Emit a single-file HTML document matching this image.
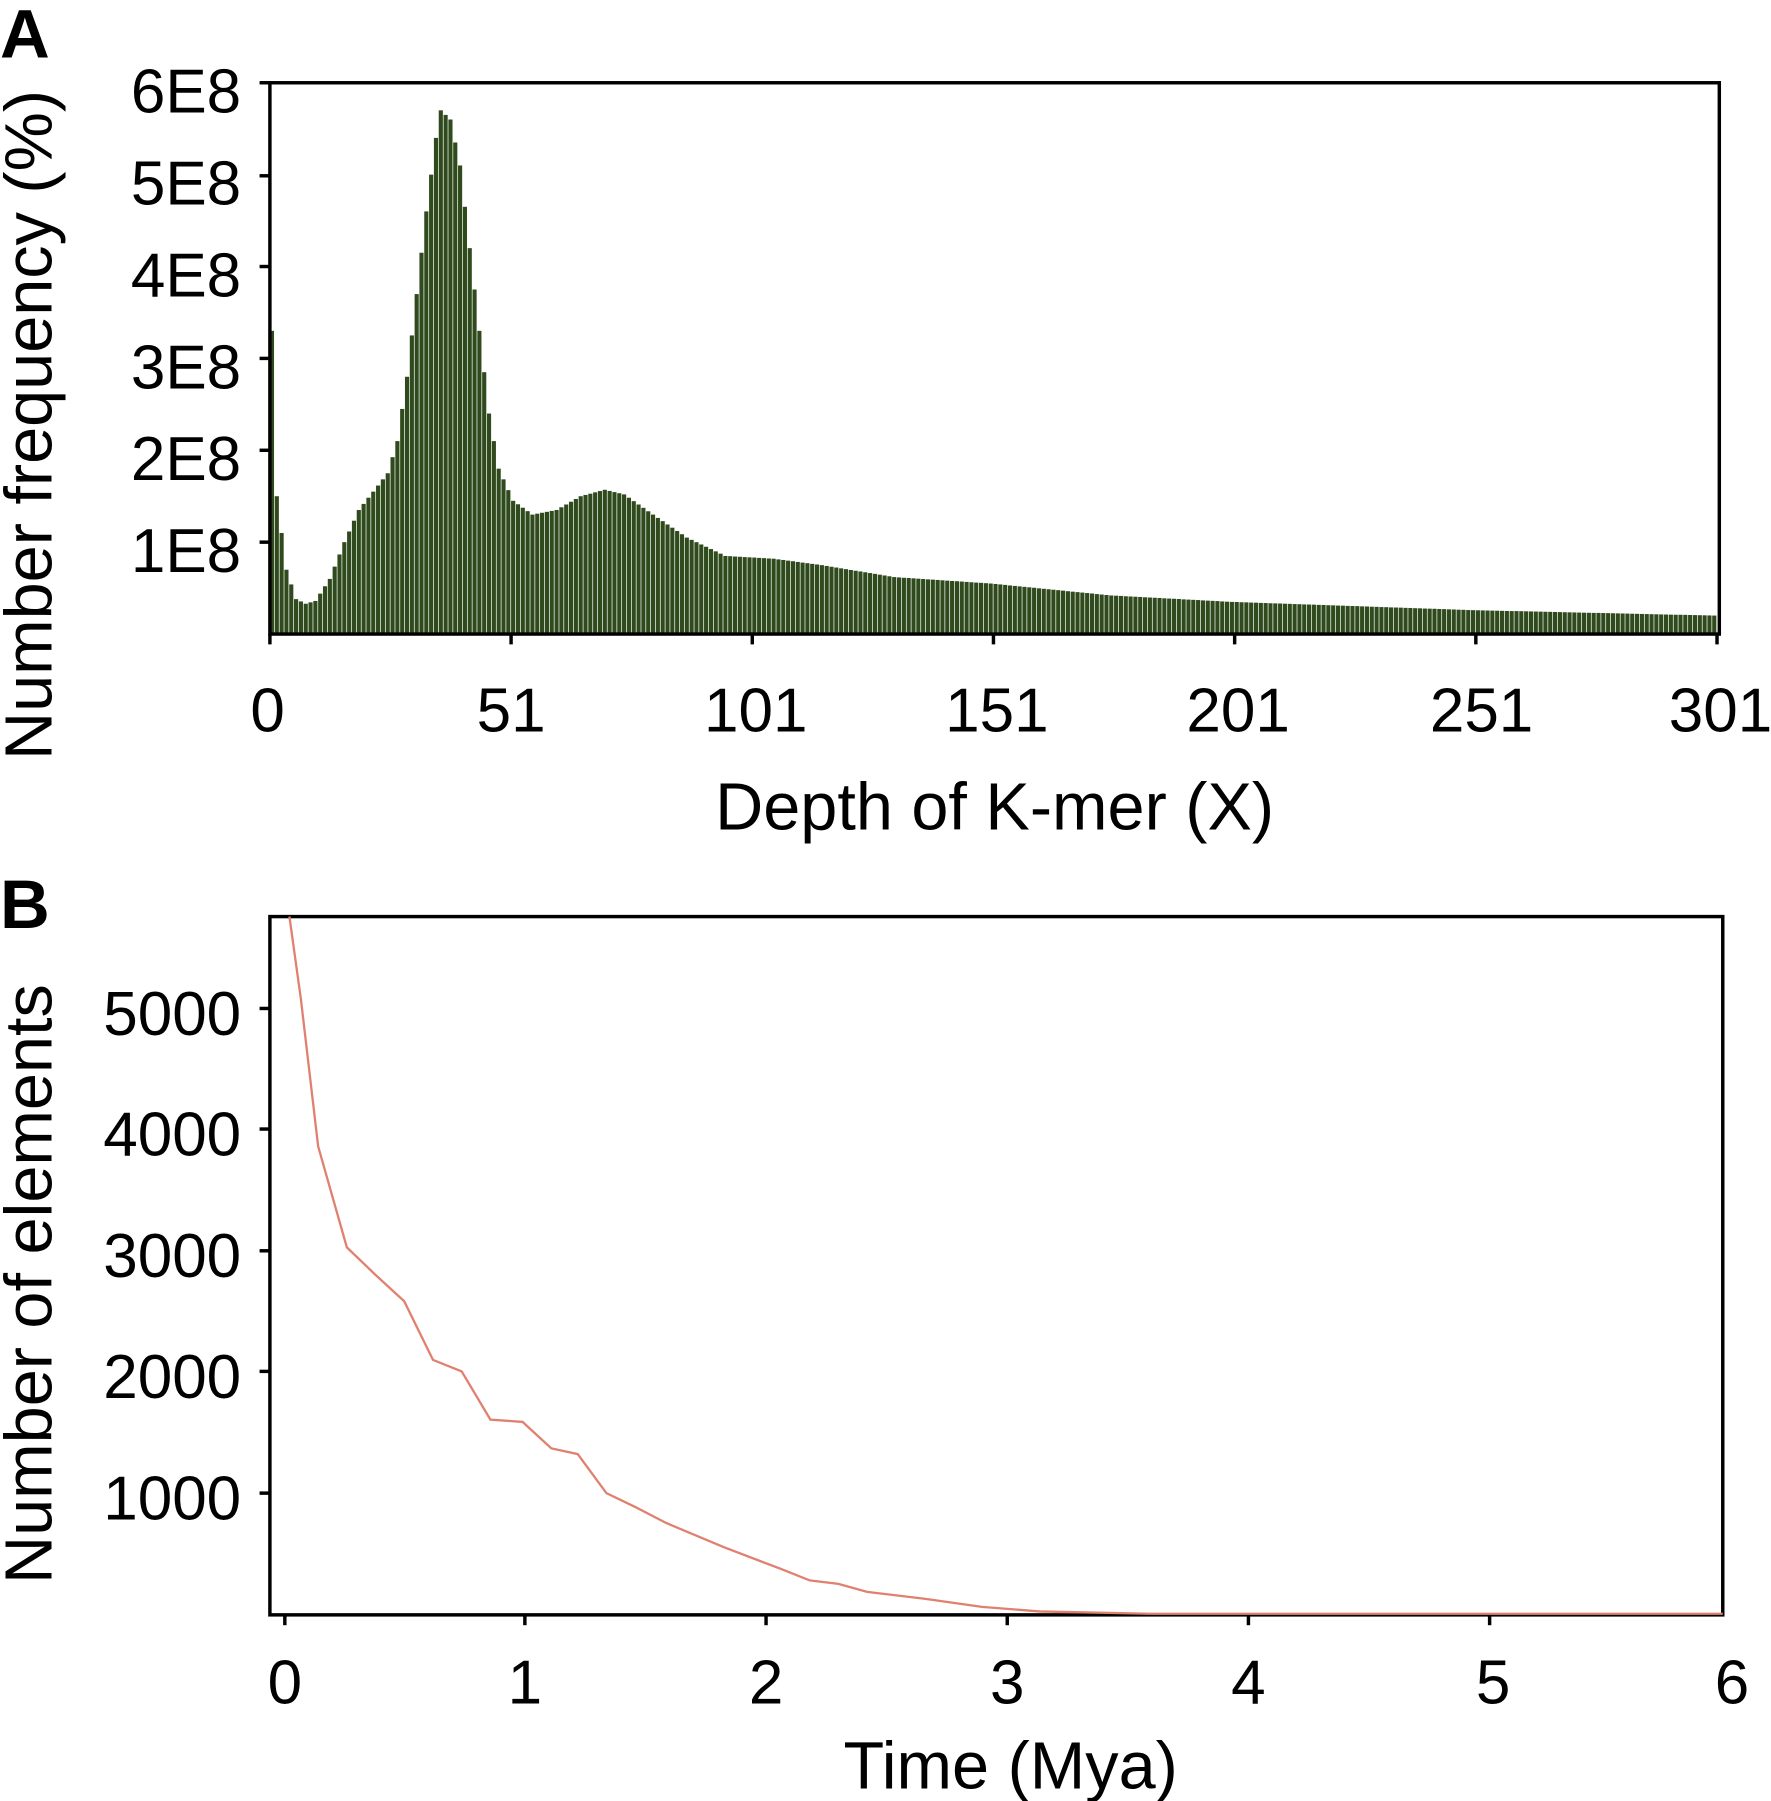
<!DOCTYPE html>
<html><head><meta charset="utf-8"><style>
html,body{margin:0;padding:0;background:#fff;}
svg{display:block;}
text{font-family:"Liberation Sans",Arial,sans-serif;fill:#000;}
</style></head><body>
<svg id="s" width="1771" height="1801" viewBox="0 0 1542 1568" xmlns="http://www.w3.org/2000/svg">
<rect width="1542" height="1568" fill="#fff"/>
<text x="0" y="50" font-size="60" font-weight="bold">A</text>
<text x="0" y="808" font-size="60" font-weight="bold">B</text>
<g id="bars"></g>
<rect x="235" y="72" width="1262" height="480" fill="none" stroke="#000" stroke-width="3"/>
<g stroke="#000" stroke-width="3">
<line x1="226" y1="72" x2="235" y2="72"/><line x1="226" y1="153" x2="235" y2="153"/>
<line x1="226" y1="232" x2="235" y2="232"/><line x1="226" y1="312" x2="235" y2="312"/>
<line x1="226" y1="392" x2="235" y2="392"/><line x1="226" y1="472" x2="235" y2="472"/>
<line x1="235" y1="552" x2="235" y2="561"/><line x1="445" y1="552" x2="445" y2="561"/>
<line x1="655" y1="552" x2="655" y2="561"/><line x1="865" y1="552" x2="865" y2="561"/>
<line x1="1075" y1="552" x2="1075" y2="561"/><line x1="1285" y1="552" x2="1285" y2="561"/>
<line x1="1495" y1="552" x2="1495" y2="561"/>
</g>
<g font-size="54" text-anchor="end">
<text x="210" y="98">6E8</text><text x="210" y="178">5E8</text><text x="210" y="258">4E8</text>
<text x="210" y="338">3E8</text><text x="210" y="418">2E8</text><text x="210" y="498">1E8</text>
</g>
<g font-size="54" text-anchor="middle">
<text x="233" y="637">0</text><text x="445" y="637">51</text><text x="658" y="637">101</text>
<text x="868" y="637">151</text><text x="1078" y="637">201</text><text x="1290" y="637">251</text>
<text x="1498" y="637">301</text>
</g>
<g font-size="58" text-anchor="middle">
<text x="866" y="722">Depth of K-mer (X)</text>
<text transform="translate(45,370) rotate(-90)">Number frequency (%)</text>
</g>
<rect x="235" y="798" width="1265" height="608" fill="none" stroke="#000" stroke-width="3"/>
<g stroke="#000" stroke-width="3">
<line x1="226" y1="878" x2="235" y2="878"/><line x1="226" y1="983" x2="235" y2="983"/>
<line x1="226" y1="1089" x2="235" y2="1089"/><line x1="226" y1="1194" x2="235" y2="1194"/>
<line x1="226" y1="1300" x2="235" y2="1300"/>
<line x1="248" y1="1406" x2="248" y2="1415"/><line x1="457" y1="1406" x2="457" y2="1415"/>
<line x1="667" y1="1406" x2="667" y2="1415"/><line x1="877" y1="1406" x2="877" y2="1415"/>
<line x1="1087" y1="1406" x2="1087" y2="1415"/><line x1="1297" y1="1406" x2="1297" y2="1415"/>
</g>
<g font-size="54" text-anchor="end">
<text x="210" y="901">5000</text><text x="210" y="1006">4000</text><text x="210" y="1112">3000</text>
<text x="210" y="1217">2000</text><text x="210" y="1323">1000</text>
</g>
<g font-size="54" text-anchor="middle">
<text x="248" y="1483">0</text><text x="457" y="1483">1</text><text x="667" y="1483">2</text>
<text x="877" y="1483">3</text><text x="1087" y="1483">4</text><text x="1300" y="1483">5</text>
<text x="1508" y="1483">6</text>
</g>
<g font-size="58" text-anchor="middle">
<text x="880" y="1557">Time (Mya)</text>
<text transform="translate(45,1118) rotate(-90)">Number of elements</text>
</g>
<polyline fill="none" stroke="#e08070" stroke-width="2" points="252,798 262,870 277,998 302,1086 327,1110 352,1133 377,1184 402,1194 427,1236 455,1238 480,1261 503,1266 528,1300 553,1312 580,1326 630,1347 680,1366 705,1376 730,1379 755,1386 805,1392 855,1399 905,1403 1000,1405 1500,1405"/>
</svg>
<script>
var pts=[[0,0],[1,3.3],[2,1.5],[4,0.7],[6,0.38],[8,0.33],[10,0.36],[13,0.6],[16,1.0],[19,1.35],[22,1.55],[25,1.75],[27,2.1],[29,2.8],[31,3.7],[33,4.6],[35,5.4],[36,5.7],[38,5.6],[40,5.1],[42,4.2],[44,3.3],[46,2.4],[48,1.8],[51,1.45],[55,1.3],[60,1.35],[65,1.5],[70,1.57],[74,1.52],[80,1.3],[87,1.05],[95,0.85],[105,0.82],[115,0.75],[130,0.62],[150,0.55],[175,0.42],[200,0.35],[250,0.26],[301,0.2]];
function f(d){for(var i=1;i<pts.length;i++){if(d<=pts[i][0]){var a=pts[i-1],b=pts[i];return a[1]+(b[1]-a[1])*(d-a[0])/(b[0]-a[0]);}}return 0.2;}
var g=document.getElementById('bars'),s='';
for(var d=1;d<=300;d++){var x=235+(d-1)*4.2,h=f(d)*80;s+='<rect x="'+x.toFixed(1)+'" y="'+(552-h).toFixed(1)+'" width="3.6" height="'+h.toFixed(1)+'" fill="#2f4a1c"/>';}
g.innerHTML=s;
</script>
</body></html>
